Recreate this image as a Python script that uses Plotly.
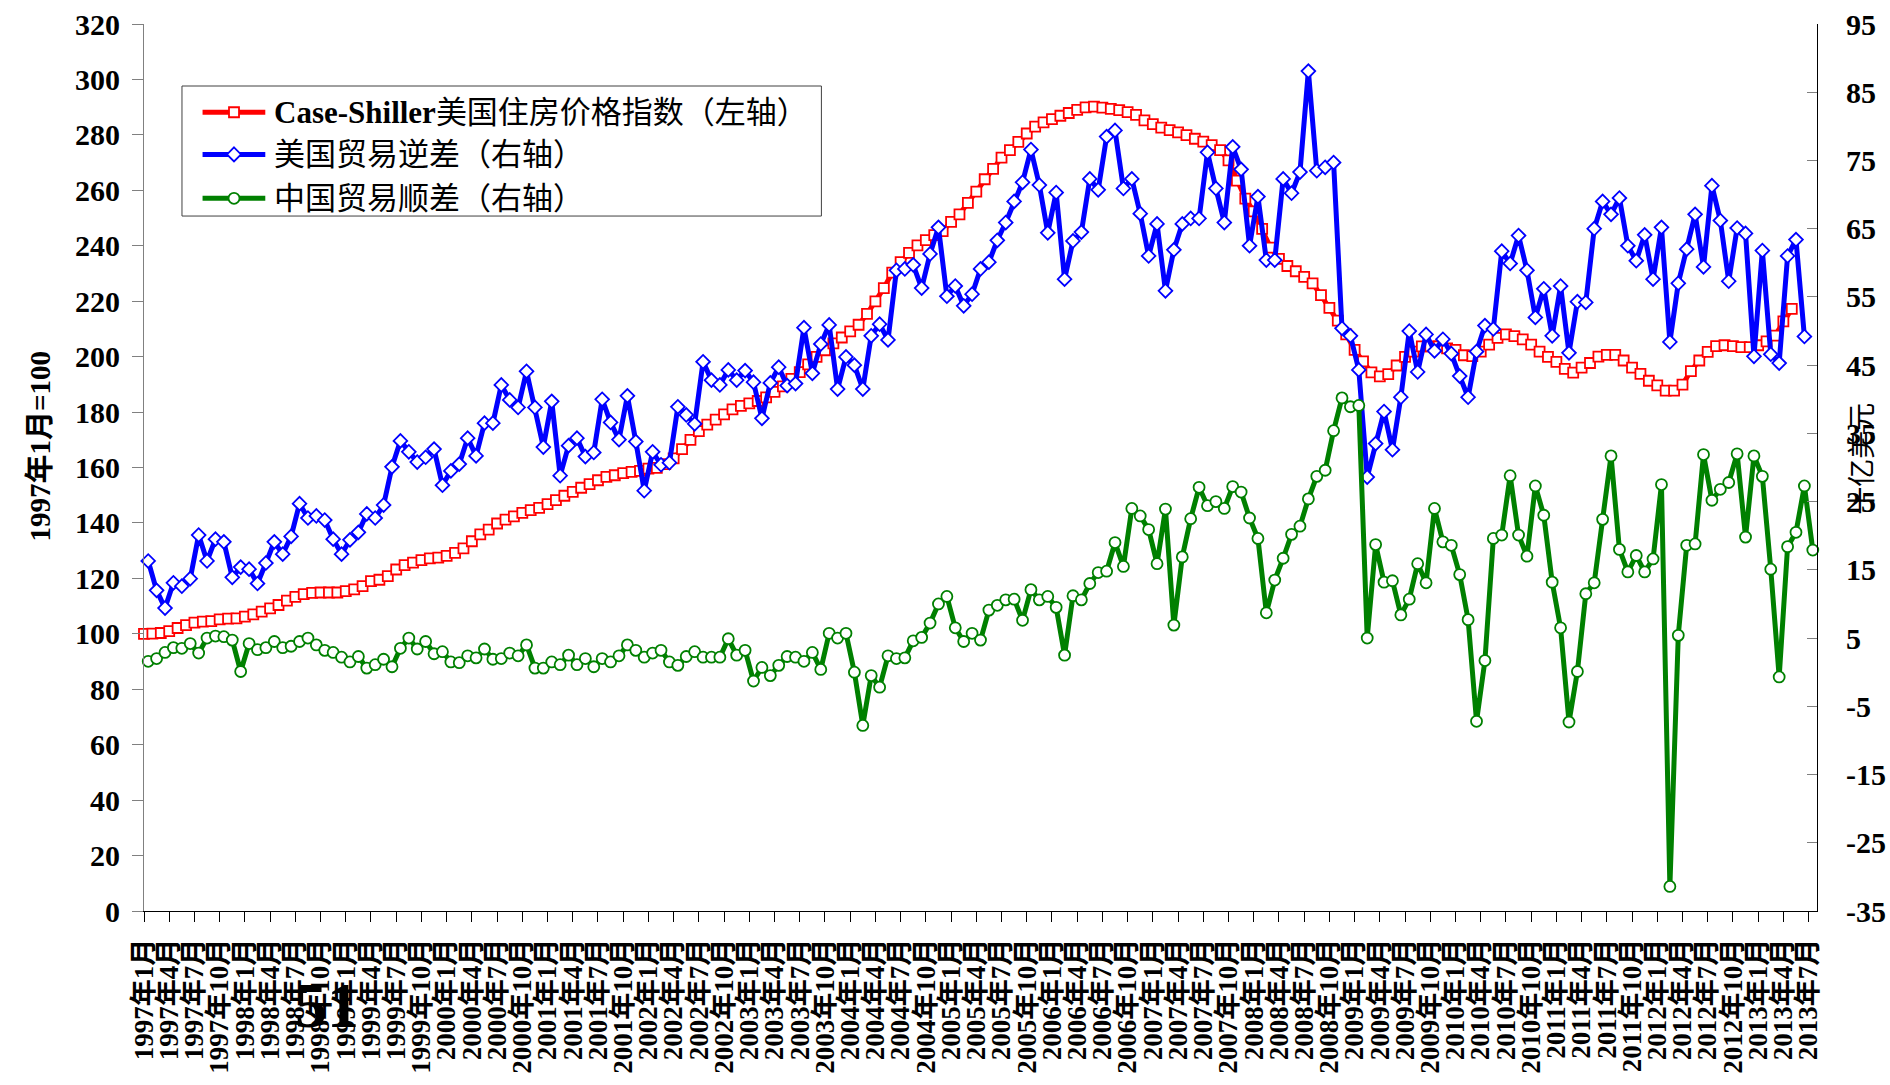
import plotly.graph_objects as go

# ---------------------------------------------------------------------------
# Monthly series, starting January 1997
# ---------------------------------------------------------------------------
START_YEAR = 1997
N_SLOTS = 200  # category slots on the primary axis: 1997-01 .. 2013-08

# Case-Shiller home price index, 1997-01 = 100 (left axis), to 2013-05
case_shiller = [
    100.0, 100.1, 100.3, 101.0, 102.1, 103.1, 104.0, 104.4, 104.6, 105.2,
    105.5, 105.6, 106.2, 107.0, 108.0, 109.2, 110.4, 112.0, 113.3, 114.3,
    114.8, 114.9, 114.9, 114.9, 115.4, 116.0, 117.2, 119.0, 119.5, 120.8,
    123.2, 124.8, 125.7, 126.6, 127.2, 127.5, 128.1, 129.2, 130.8, 133.4,
    135.9, 137.6, 139.8, 141.2, 142.4, 143.6, 144.6, 145.4, 146.8, 148.2,
    149.8, 151.2, 152.7, 154.0, 155.4, 156.6, 157.2, 158.0, 158.4, 158.8,
    159.6, 159.9, 161.2, 163.3, 166.6, 170.0, 173.1, 175.5, 177.3, 179.2,
    181.0, 182.2, 183.1, 184.0, 185.3, 187.3, 189.3, 192.0, 194.4, 197.2,
    199.9, 202.3, 204.8, 206.9, 209.1, 211.5, 215.4, 219.9, 224.7, 230.3,
    234.1, 237.4, 240.1, 242.0, 243.8, 245.3, 248.6, 251.3, 255.5, 259.5,
    264.0, 267.7, 271.8, 274.5, 277.5, 280.5, 283.0, 284.5, 285.7, 286.9,
    287.9, 289.0, 289.9, 290.2, 289.8, 289.4, 288.9, 288.2, 287.2, 285.2,
    283.9, 282.6, 281.7, 280.9, 279.9, 278.6, 277.6, 276.3, 274.5, 270.8,
    263.5, 257.0, 252.4, 246.1, 239.3, 235.3, 232.7, 230.8, 228.8, 226.4,
    222.2, 217.6, 213.0, 208.0, 202.4, 198.3, 194.3, 192.9, 193.7, 196.8,
    199.9, 201.8, 203.7, 203.7, 203.7, 203.0, 202.4, 200.5, 200.2, 201.8,
    204.3, 206.8, 208.0, 207.4, 206.2, 204.3, 201.8, 199.9, 198.1, 195.6,
    194.2, 196.0, 197.7, 200.0, 200.6, 200.6, 198.6, 196.0, 193.8, 191.3,
    189.6, 187.7, 187.7, 189.9, 194.8, 198.6, 201.7, 203.8, 204.1, 203.8,
    203.4, 203.4, 204.1, 205.5, 207.6, 212.7, 217.2,
]

# US trade deficit, billion USD (right axis), to 2013-06
us_deficit = [
    16.3, 12.0, 9.4, 13.1, 12.6, 13.7, 20.1, 16.3, 19.5, 19.1,
    13.9, 15.4, 15.1, 13.0, 16.0, 19.1, 17.3, 19.9, 24.7, 22.6,
    22.9, 22.3, 19.5, 17.3, 19.4, 20.5, 23.2, 22.6, 24.5, 30.1,
    33.9, 32.3, 30.8, 31.5, 32.7, 27.4, 29.5, 30.5, 34.3, 31.7,
    36.5, 36.5, 42.1, 39.9, 38.8, 44.1, 38.8, 33.0, 39.7, 28.8,
    33.2, 34.3, 31.6, 32.2, 40.0, 36.6, 34.1, 40.5, 33.8, 26.6,
    32.3, 30.4, 30.7, 38.9, 37.7, 36.4, 45.5, 42.8, 42.1, 44.3,
    42.8, 44.2, 42.5, 37.2, 42.4, 44.7, 42.0, 42.3, 50.5, 43.8,
    48.1, 50.9, 41.5, 46.2, 45.0, 41.5, 49.3, 51.0, 48.7, 58.9,
    59.1, 59.7, 56.3, 61.3, 65.2, 55.1, 56.6, 53.7, 55.4, 59.1,
    60.1, 63.3, 65.9, 69.0, 71.8, 76.6, 71.4, 64.4, 70.3, 57.6,
    63.2, 64.5, 72.3, 70.7, 78.5, 79.4, 70.9, 72.3, 67.2, 61.0,
    65.7, 55.9, 61.9, 65.7, 66.5, 66.5, 76.2, 70.9, 65.9, 77.0,
    73.7, 62.5, 69.7, 60.4, 60.4, 72.3, 70.2, 73.3, 88.1, 73.5,
    74.0, 74.7, 50.4, 49.3, 44.3, 28.6, 33.5, 38.2, 32.6, 40.3,
    50.0, 44.0, 49.5, 47.1, 48.8, 46.7, 43.4, 40.3, 47.0, 50.8,
    50.3, 61.7, 59.9, 64.0, 58.9, 52.0, 56.2, 49.3, 56.6, 46.8,
    54.3, 54.2, 65.0, 69.0, 67.1, 69.5, 62.5, 60.3, 64.1, 57.6,
    65.2, 48.4, 57.0, 62.0, 67.1, 59.4, 71.3, 66.2, 57.3, 65.1,
    64.3, 46.3, 61.8, 46.6, 45.3, 61.0, 63.4, 49.2,
]

# China trade surplus, billion USD (right axis), to 2013-07
china_surplus = [
    1.6, 2.0, 2.9, 3.6, 3.5, 4.2, 2.8, 5.0, 5.3, 5.2,
    4.7, 0.1, 4.2, 3.3, 3.6, 4.5, 3.6, 3.8, 4.5, 5.0,
    4.0, 3.2, 2.9, 2.2, 1.5, 2.3, 0.6, 1.1, 1.9, 0.8,
    3.5, 5.0, 3.4, 4.5, 2.7, 3.0, 1.5, 1.4, 2.4, 2.1,
    3.4, 1.9, 2.0, 2.8, 2.4, 4.0, 0.6, 0.6, 1.5, 1.1,
    2.5, 1.1, 2.0, 0.8, 2.0, 1.5, 2.4, 4.0, 3.2, 2.2,
    2.8, 3.2, 1.5, 1.0, 2.3, 3.0, 2.2, 2.2, 2.2, 4.9,
    2.5, 3.2, -1.3, 0.7, -0.5, 1.0, 2.3, 2.2, 1.6, 2.9,
    0.4, 5.7, 5.0, 5.7, 0.0, -7.8, -0.5, -2.2, 2.4, 2.0,
    2.1, 4.6, 5.1, 7.2, 10.0, 11.1, 6.5, 4.5, 5.7, 4.7,
    9.1, 9.8, 10.6, 10.7, 7.6, 12.1, 10.6, 11.1, 9.5, 2.5,
    11.2, 10.6, 13.0, 14.6, 14.8, 19.0, 15.5, 24.0, 22.9, 20.9,
    15.9, 23.9, 6.9, 16.9, 22.5, 27.1, 24.4, 25.0, 24.0, 27.2,
    26.4, 22.6, 19.6, 8.7, 13.5, 16.7, 20.2, 21.4, 25.4, 28.7,
    29.6, 35.4, 40.2, 38.9, 39.1, 5.0, 18.7, 13.2, 13.4, 8.4,
    10.7, 15.9, 13.1, 24.0, 19.1, 18.6, 14.3, 7.7, -7.2, 1.7,
    19.6, 20.1, 28.8, 20.1, 17.0, 27.3, 23.0, 13.2, 6.5, -7.3,
    0.1, 11.5, 13.1, 22.4, 31.7, 18.0, 14.7, 17.1, 14.7, 16.6,
    27.5, -31.4, 5.4, 18.6, 18.8, 31.9, 25.2, 26.8, 27.8, 32.0,
    19.8, 31.7, 28.7, 15.1, -0.7, 18.4, 20.5, 27.3, 17.9,
]

# Category labels: one per month, labelled every third month
month_labels = [f"{START_YEAR + k // 12}年{k % 12 + 1}月" for k in range(N_SLOTS)]
label_step = 3
tick_positions = list(range(0, N_SLOTS - 1, label_step))
tick_texts = [month_labels[k] for k in tick_positions]

left_ticks = list(range(0, 321, 20))
right_ticks = list(range(-35, 96, 10))
right_tick_texts = [str(v) for v in right_ticks]

series_names = [
    "<b>Case-Shiller</b>美国住房价格指数（左轴）",
    "美国贸易逆差（右轴）",
    "中国贸易顺差（右轴）",
]

RED, BLUE, GREEN = "#FF0000", "#0000FF", "#008000"
SERIF = "Liberation Serif, Noto Sans CJK SC, serif"

fig = go.Figure()

# Left-axis series sits on the tick marks of the primary category axis
fig.add_trace(go.Scatter(
    x=list(range(len(case_shiller))), y=case_shiller,
    xaxis="x", yaxis="y", mode="lines+markers", name=series_names[0],
    line=dict(color=RED, width=5),
    marker=dict(symbol="square", size=10, color="white",
                line=dict(color=RED, width=1.8)),
    showlegend=False, cliponaxis=False,
))
# Right-axis series use a secondary category axis (points centred in each slot)
fig.add_trace(go.Scatter(
    x=list(range(len(us_deficit))), y=us_deficit,
    xaxis="x2", yaxis="y2", mode="lines+markers", name=series_names[1],
    line=dict(color=BLUE, width=5),
    marker=dict(symbol="diamond", size=10.5, color="white",
                line=dict(color=BLUE, width=1.8)),
    showlegend=False, cliponaxis=False,
))
fig.add_trace(go.Scatter(
    x=list(range(len(china_surplus))), y=china_surplus,
    xaxis="x2", yaxis="y2", mode="lines+markers", name=series_names[2],
    line=dict(color=GREEN, width=5),
    marker=dict(symbol="circle", size=11, color="white",
                line=dict(color=GREEN, width=1.8)),
    showlegend=False, cliponaxis=False,
))

tick_font = dict(family=SERIF, size=30, color="black", weight="bold")
month_font = dict(family=SERIF, size=27, color="black", weight="bold")

fig.update_layout(
    width=1890, height=1085,
    margin=dict(l=144, r=73, t=24, b=174, autoexpand=False),
    paper_bgcolor="white", plot_bgcolor="white",
    xaxis=dict(
        domain=[0, 1], range=[0, N_SLOTS - 1],
        tickmode="array", tickvals=tick_positions, ticktext=tick_texts,
        tickangle=-90, ticks="outside", ticklen=10, tickwidth=1,
        tickcolor="black", showline=True, linecolor="black", linewidth=1,
        showgrid=False, zeroline=False, tickfont=month_font,
        ticklabelstandoff=6,
    ),
    xaxis2=dict(
        overlaying="x", anchor="y2", range=[-0.5, N_SLOTS - 1.5],
        visible=False, showgrid=False, zeroline=False,
    ),
    yaxis=dict(
        domain=[0, 1], range=[0, 320],
        tickmode="array", tickvals=left_ticks,
        ticks="outside", ticklen=11, tickwidth=1, tickcolor="#808080",
        showline=True, linecolor="#808080", linewidth=1,
        showgrid=False, zeroline=False, tickfont=tick_font,
        ticklabelstandoff=6,
    ),
    yaxis2=dict(
        overlaying="y", anchor="x", side="right", range=[-35, 95],
        tickmode="array", tickvals=right_ticks, ticktext=right_tick_texts,
        ticks="inside", ticklen=10, tickwidth=1, tickcolor="#808080",
        showline=True, linecolor="black", linewidth=1,
        showgrid=False, zeroline=False, tickfont=tick_font,
        ticklabelstandoff=22,
    ),
)

# Axis titles and a stray page mark
annotations = [
    dict(text="<b>1997年1月=100</b>", x=-0.062, y=0.524, xref="paper", yref="paper",
         textangle=-90, showarrow=False, xanchor="center", yanchor="middle",
         font=dict(family=SERIF, size=29, color="black")),
    dict(text="十亿美元", x=1.027, y=0.51, xref="paper", yref="paper",
         textangle=-90, showarrow=False, xanchor="center", yanchor="middle",
         font=dict(family=SERIF, size=28, color="black")),
    dict(text="<b>51</b>", x=0.1094, y=-0.106, xref="paper", yref="paper",
         showarrow=False, xanchor="center", yanchor="middle",
         font=dict(family=SERIF, size=64, color="black")),
]

# Legend box drawn by hand so the sample lines match the series styles
legend_box = dict(x0=0.0227, x1=0.4049, y0=0.7835, y1=0.9301)
row_y = [0.9005, 0.8530, 0.8035]
line_x0, line_x1, marker_x, text_x = 0.0350, 0.0725, 0.0538, 0.0765
colors = [RED, BLUE, GREEN]

shapes = [dict(type="rect", xref="paper", yref="paper", layer="above",
               line=dict(color="#404040", width=1), fillcolor="white", **legend_box)]
for ry, col, name in zip(row_y, colors, series_names):
    shapes.append(dict(type="line", xref="paper", yref="paper", layer="above",
                       x0=line_x0, x1=line_x1, y0=ry, y1=ry,
                       line=dict(color=col, width=5)))
    annotations.append(dict(text=name, x=text_x, y=ry, xref="paper", yref="paper",
                            showarrow=False, xanchor="left", yanchor="middle",
                            font=dict(family=SERIF, size=31, color="black")))

pix = dict(xref="paper", yref="paper", xsizemode="pixel", ysizemode="pixel",
           xanchor=marker_x, layer="above", fillcolor="white")
shapes.append(dict(type="rect", yanchor=row_y[0], x0=-5, x1=5, y0=-5, y1=5,
                   line=dict(color=RED, width=1.8), **pix))
shapes.append(dict(type="path", yanchor=row_y[1], path="M0,7L7,0L0,-7L-7,0Z",
                   line=dict(color=BLUE, width=1.8), **pix))
shapes.append(dict(type="circle", yanchor=row_y[2], x0=-5.5, x1=5.5, y0=-5.5, y1=5.5,
                   line=dict(color=GREEN, width=1.8), **pix))

fig.update_layout(shapes=shapes, annotations=annotations)

fig.write_html("out.html")
